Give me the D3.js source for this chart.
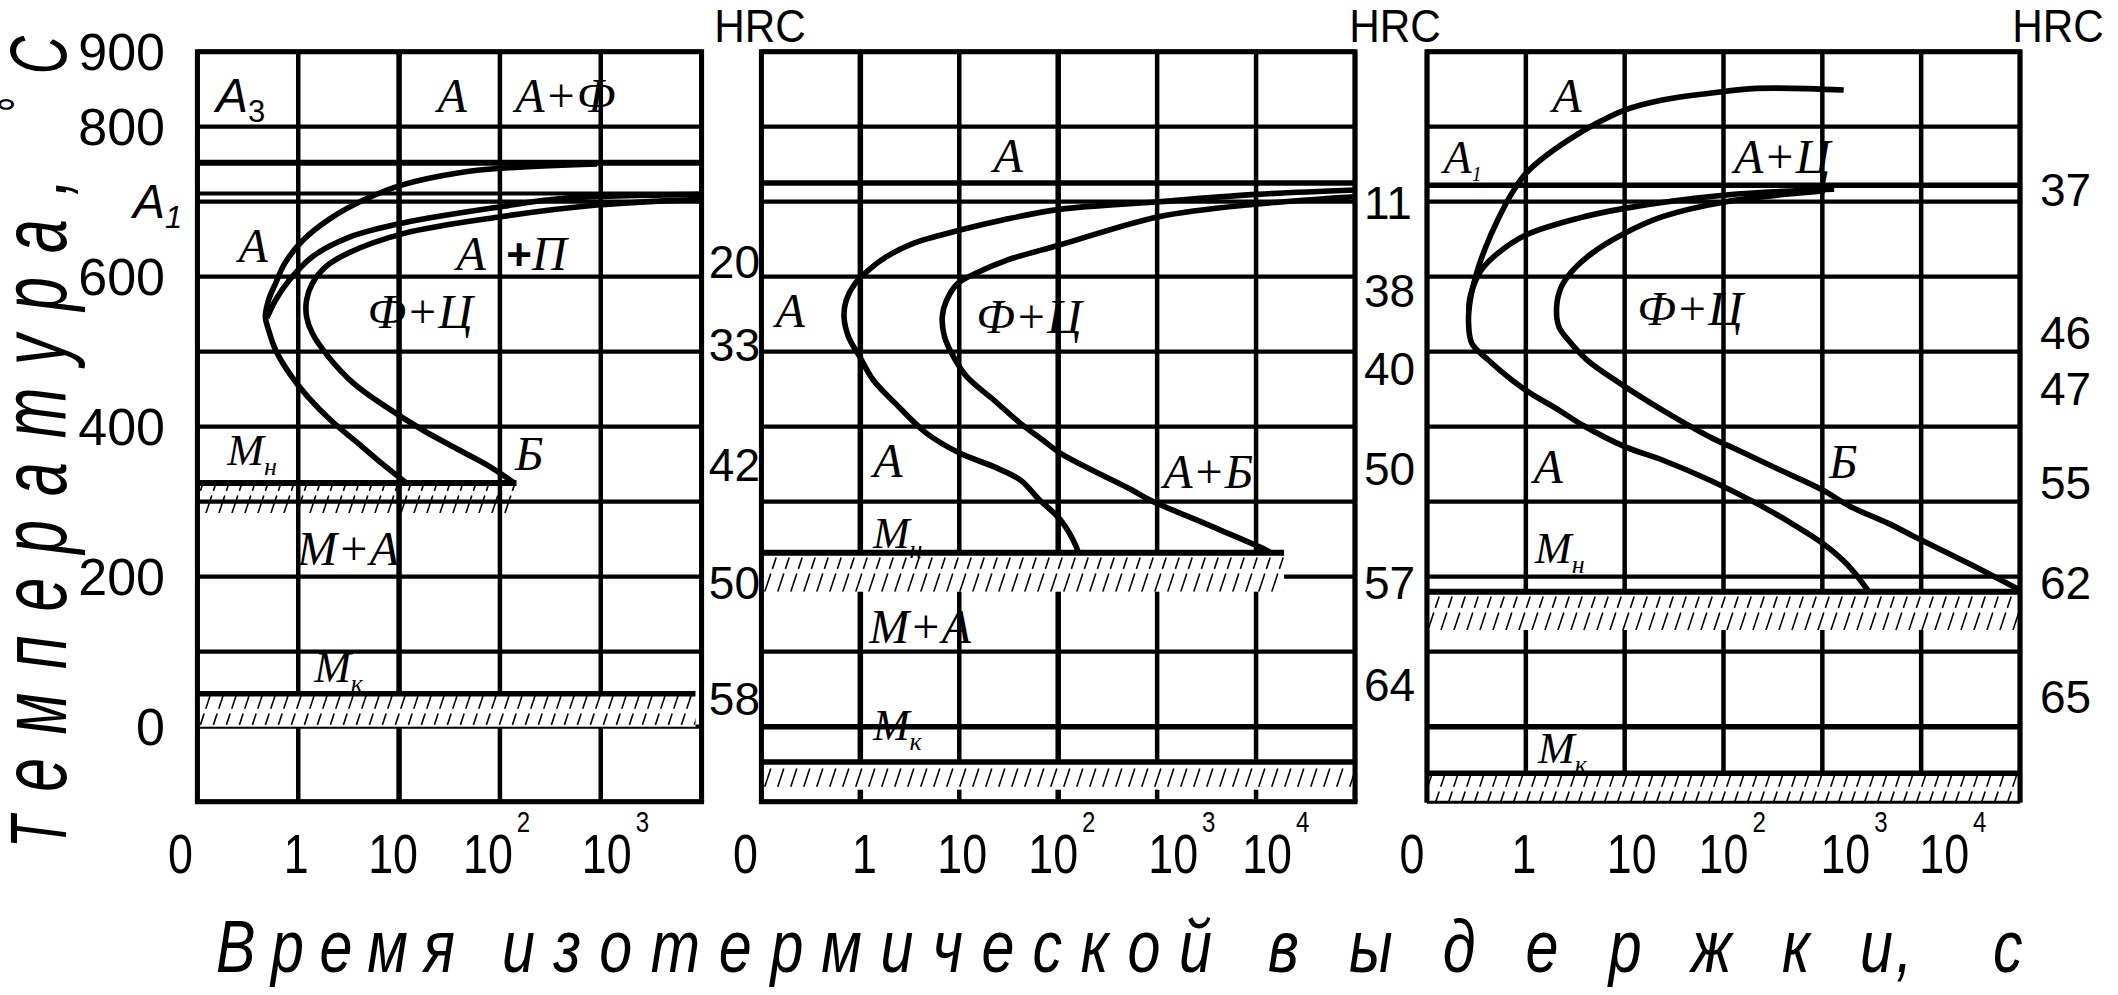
<!DOCTYPE html>
<html><head><meta charset="utf-8">
<script src="https://cdn.jsdelivr.net/npm/d3@7"></script>
<style>
html,body{margin:0;padding:0;background:#fff;}
svg{display:block;}
</style></head><body>
<svg id="chart" width="2118" height="995"></svg>
<script>
// ================= DATA =================
const gridTemps = [-100, 0, 100, 200, 300, 400, 500, 600, 700, 800, 900];
const tempTickValues = [900, 800, 600, 400, 200, 0];

const p1TimeGrid = [0.1, 1, 10, 100, 1000, 10000];
const p23TimeGrid = [0.1, 1, 10, 100, 1000, 10000, 100000];
const p1TimeTicks = [0.1, 1, 10, 100, 1000];
const p1TimeLabels = ["0", "1", "10", "10^2", "10^3"];
const p23TimeTicks = [0.1, 1, 10, 100, 1000, 10000];
const p23TimeLabels = ["0", "1", "10", "10^2", "10^3", "10^4"];

const xTitleWords = ["Время", "изотермической", "выдержки", ",", "с"];
const yTitleParts = ["Т", "емпература, ", "°", "С"];

// critical temperatures, °C
const p1Critical = [752, 711];
const p2Critical = [725];
const p3Critical = [722];
// martensite start / finish
const p1Ms = 325, p1MsEndTime = 146, p1MsBandBottom = 285;
const p1Mf = 44, p1MfBandBottom = 0;
const p2Ms = 232, p2MsEndTime = 19200, p2MsBandBottom = 180;
const p2Mf = -47, p2MfBandBottom = -84;
const p3Ms = 180, p3MsBandBottom = 129;
const p3Mf = -62, p3MfBandBottom = -100;

// C-curves: [time, s ; temperature, °C]
const p1CurveA = [[918,750.3],[101.6,744.5],[39.5,738.7],[11.2,723.1],[4.85,704.5],[2.09,677.8],[1.12,648.9],[0.735,617.8],[0.596,591.1],[0.508,568.9],[0.472,546.7],[0.508,528.9],[0.596,502.2],[0.817,471.1],[1.24,440],[2.09,408.9],[3.93,377.8],[7.38,346.7],[11.8,325]];
const p1CurveB = [[10000,709.8],[440,704.5],[101.6,693.3],[11.2,672],[3.18,652.5],[1.38,626.7],[0.817,595.6],[0.596,568.9],[0.49,545]];
const p1CurveC = [[10000,703.1],[918,695.6],[101.6,680],[11.2,657.8],[3.18,632],[1.88,613.4],[1.38,591.1],[1.21,568.9],[1.21,546.7],[1.38,524.5],[1.99,493.4],[3.54,457.8],[7.38,426.7],[17.1,395.6],[39.5,369],[74.3,349],[139,325]];

const p2CurveD = [[100000,715.6],[10230,709.8],[1040,700],[103.5,689.8],[27.4,675.6],[10.2,662.2],[3.43,644.5],[1.84,626.7],[1.21,608.9],[0.887,591.1],[0.721,568.9],[0.684,546.7],[0.759,520],[0.984,493.4],[1.35,462.3],[2.26,431.1],[4.68,391.1],[10.2,364.5],[22.3,346.7],[41.5,328.9],[63,304],[105.7,275.6],[152,240],[158.5,232]];
const p2CurveE = [[100000,706.7],[10230,696.9],[1040,680],[103.5,642.2],[30.4,622.2],[14.7,604.5],[9.68,591.1],[7.46,568.9],[6.73,546.7],[7.1,520],[8.73,493.4],[11.9,466.7],[22.3,435.6],[41.5,404.5],[69.8,382.2],[105.7,364.5],[219,342.3],[557,315.6],[845,302.2],[3622,266.7],[12620,235.6],[14000,232]];

const p3CurveF = [[1644,848.9],[216,851.1],[72.1,844.5],[24.1,835.6],[10,822.2],[5.2,804.5],[2.69,782.2],[1.55,760],[1.0,737.8],[0.721,711.1],[0.519,675.6],[0.394,640],[0.317,604.5],[0.274,568.9],[0.263,542.2],[0.284,511.2],[0.417,488.9],[0.721,462.3],[1.117,444.5],[2.16,422.2],[3.73,402.2],[10,373.4],[24.1,355.6],[72.1,328.9],[216,297.8],[520,268.9],[1005,244.5],[1738,217.8],[2415,195.6],[2951,180]];
const p3CurveG = [[1318,716.5],[105.9,708.9],[10,691.1],[3.35,677.8],[1.0,655.6],[0.519,631.1],[0.354,608.9],[0.293,586.7],[0.269,568.9],[0.265,555]];
const p3CurveH = [[1059,714.7],[105.9,700],[24.1,680],[10,657.8],[4.66,631.1],[3.0,608.9],[2.29,586.7],[2.05,560],[2.16,533.3],[2.69,515.6],[4.17,488.9],[8.97,457.8],[24.1,422.2],[72.1,386.7],[139.6,368.9],[374,342.2],[1005,315.6],[1936,293.3],[4656,271.1],[10000,248.9],[30060,217.8],[100000,182]];

// hardness HRC after isothermal holding at temperature
const p1Hrc = [20, 33, 42, 50, 58];
const p1HrcTemps = [620, 510, 350, 193, 38];
const p2Hrc = [11, 38, 40, 50, 57, 64];
const p2HrcTemps = [699, 582, 478, 345, 192, 57];
const p3Hrc = [37, 46, 47, 55, 62, 65];
const p3HrcTemps = [717, 526, 451, 326, 192, 41];

// phase-region labels [text, time, temperature]
const p1Labels = [["А",33.6,820],["А+Ф",445,820],["А",0.358,620],["А",52,609],["Ф+Ц",16.2,532],["Б",195,342],["М+А",3.13,216]];
const p2Labels = [["А",31.2,740],["А",0.195,533],["Ф+Ц",50.8,525],["А",1.9,333],["А+Б",3280,318],["М+А",4.02,112]];
const p3Labels = [["А",2.61,820],["А+Ц",392,738],["Ф+Ц",45.9,536],["А",1.68,325],["Б",1622,332]];
// subscripted labels [main, sub, time, temperature]
const p1SubLabels = [["М","н",0.198,349],["М","к",1.44,60]];
const p2SubLabels = [["М","н",1.34,238],["М","к",1.34,-18]];
const p3SubLabels = [["М","н",1.24,218],["М","к",1.33,-49],["А","1",0.147,738]];

// ================= DRAWING =================
const svg = d3.select("#chart");
const SANS = "'Liberation Sans', Arial, sans-serif";
const SERIF = "'Liberation Serif', 'Times New Roman', serif";

const defs = svg.append("defs");
const pat = defs.append("pattern").attr("id", "hatch")
  .attr("patternUnits", "userSpaceOnUse").attr("width", 13).attr("height", 39);
pat.append("path").attr("d", "M-13,39L0,0M0,39L13,0M13,39L26,0")
  .attr("stroke", "#000").attr("stroke-width", 1.6).attr("fill", "none")
  .attr("stroke-dasharray", "12,5");

const y = d3.scaleLinear().domain([-100, 900]).range([801.7, 51.7]);

const panels = [
  { domain: [0.1, 1e4], range: [197.4, 701.6], grid: p1TimeGrid,
    critical: p1Critical, criticalW: [6, 4],
    ms: p1Ms, msEnd: p1MsEndTime, msBottom: p1MsBandBottom, msOpaque: false,
    mf: p1Mf, mfEnd: 8700, mfBottom: p1MfBandBottom, mfOpaque: true,
    curves: [p1CurveA, p1CurveB, p1CurveC],
    ticks: p1TimeTicks, tickLabels: p1TimeLabels, nudge: [-17, -2, -6, -12, 6],
    labels: p1Labels, subLabels: p1SubLabels, boldV: [10], boldT: [], bottomW: 5 },
  { domain: [0.1, 1e5], range: [761.4, 1355], grid: p23TimeGrid,
    critical: p2Critical, criticalW: [5.5],
    ms: p2Ms, msEnd: p2MsEndTime, msBottom: p2MsBandBottom, msOpaque: true,
    mf: p2Mf, mfEnd: 1e5, mfBottom: p2MfBandBottom, mfOpaque: true,
    curves: [p2CurveD, p2CurveE],
    ticks: p23TimeTicks, tickLabels: p23TimeLabels, nudge: [-16, 4, 3, -5, 16, 11],
    labels: p2Labels, subLabels: p2SubLabels, boldV: [1, 100], boldT: [0], bottomW: 5 },
  { domain: [0.1, 1e5], range: [1427, 2020], grid: p23TimeGrid,
    critical: p3Critical, criticalW: [5.5],
    ms: p3Ms, msEnd: 1e5, msBottom: p3MsBandBottom, msOpaque: true,
    mf: p3Mf, mfEnd: 1e5, mfBottom: p3MfBandBottom, mfOpaque: true,
    curves: [p3CurveF, p3CurveG, p3CurveH],
    ticks: p23TimeTicks, tickLabels: p23TimeLabels, nudge: [-15, -2, 7, 0, 23, 23],
    labels: p3Labels, subLabels: p3SubLabels, boldV: [], boldT: [0], bottomW: 2 }
];

panels.forEach((P) => {
  const x = d3.scaleLog().domain(P.domain).range(P.range);
  const g = svg.append("g");
  const x0 = x(P.domain[0]), x1 = x(P.domain[1]);

  // grid
  g.selectAll(".hg").data(gridTemps).join("line")
    .attr("x1", x0).attr("x2", x1).attr("y1", d => y(d)).attr("y2", d => y(d))
    .attr("stroke", "#000").attr("stroke-width", d => P.boldT.includes(d) ? 5.5 : 4.3);
  g.selectAll(".vg").data(P.grid).join("line")
    .attr("x1", d => x(d)).attr("x2", d => x(d)).attr("y1", y(900)).attr("y2", y(-100))
    .attr("stroke", "#000").attr("stroke-width", d => P.boldV.includes(d) ? 5.5 : 4.5);

  // hatched bands
  const bands = [
    { top: P.ms, bottom: P.msBottom, end: P.msEnd, opaque: P.msOpaque },
    { top: P.mf, bottom: P.mfBottom, end: P.mfEnd, opaque: P.mfOpaque }
  ];
  bands.forEach(b => {
    const bx0 = x0 + 2, bx1 = x(b.end);
    const by0 = y(b.top) + 2, by1 = y(b.bottom);
    if (b.opaque) {
      g.append("rect").attr("x", bx0).attr("y", by0).attr("width", bx1 - bx0).attr("height", by1 - by0)
        .attr("fill", "#fff");
    }
    g.append("rect").attr("x", bx0).attr("y", by0).attr("width", bx1 - bx0).attr("height", by1 - by0)
      .attr("fill", "url(#hatch)");
  });

  // critical lines
  g.selectAll(".crit").data(P.critical).join("line")
    .attr("x1", x0).attr("x2", x1).attr("y1", d => y(d)).attr("y2", d => y(d))
    .attr("stroke", "#000").attr("stroke-width", (d, i) => P.criticalW[i]);
  // Ms and Mf lines
  g.append("line").attr("x1", x0).attr("x2", x(P.msEnd)).attr("y1", y(P.ms)).attr("y2", y(P.ms))
    .attr("stroke", "#000").attr("stroke-width", 6);
  g.append("line").attr("x1", x0).attr("x2", x(P.mfEnd)).attr("y1", y(P.mf)).attr("y2", y(P.mf))
    .attr("stroke", "#000").attr("stroke-width", 5.5);

  // C-curves
  const line = d3.line().x(d => x(d[0])).y(d => y(d[1])).curve(d3.curveCatmullRom.alpha(0.5));
  g.selectAll(".curve").data(P.curves).join("path")
    .attr("d", line).attr("fill", "none").attr("stroke", "#000")
    .attr("stroke-width", 5.6).attr("stroke-linejoin", "round");

  // border
  g.append("path")
    .attr("d", `M${x0},${y(-100)}L${x0},${y(900)}L${x1},${y(900)}L${x1},${y(-100)}`)
    .attr("fill", "none").attr("stroke", "#000").attr("stroke-width", 5);
  g.append("line").attr("x1", x0 - 2.5).attr("x2", x1 + 2.5).attr("y1", y(-100)).attr("y2", y(-100))
    .attr("stroke", "#000").attr("stroke-width", P.bottomW);

  // time tick labels
  P.ticks.forEach((t, i) => {
    const lab = P.tickLabels[i];
    const cx = x(t) + P.nudge[i];
    const tg = svg.append("g").attr("transform", `translate(${cx},873) scale(0.8,1)`);
    const parts = lab.split("^");
    tg.append("text").attr("x", 0).attr("y", 0).attr("text-anchor", "middle")
      .attr("font-family", SANS).attr("font-size", 56).text(parts[0]);
    if (parts[1]) {
      const half = parts[0].length * 0.556 * 56 / 2;
      tg.append("text").attr("x", half + 5).attr("y", -41)
        .attr("font-family", SANS).attr("font-size", 30).text(parts[1]);
    }
  });

  // phase labels
  g.selectAll(".plab").data(P.labels).join("text")
    .attr("x", d => x(d[1])).attr("y", d => y(d[2])).attr("text-anchor", "middle")
    .attr("font-family", SERIF).attr("font-style", "italic").attr("font-size", 48)
    .text(d => d[0]);
  P.subLabels.forEach(d => {
    const t = g.append("text").attr("x", x(d[2])).attr("y", y(d[3]))
      .attr("font-family", SERIF).attr("font-style", "italic");
    const isM = d[0] === "М";
    t.append("tspan").attr("font-size", isM ? 44 : 46).text(d[0]);
    t.append("tspan").attr("font-size", isM ? 26 : 20).attr("dy", isM ? 10 : 8).text(d[1]);
  });
});

// panel-1 special labels
{
  const x = d3.scaleLog().domain([0.1, 1e4]).range([197.4, 701.6]);
  const a3 = svg.append("text").attr("x", x(0.153)).attr("y", y(820)).attr("font-family", SANS);
  a3.append("tspan").attr("font-size", 48).attr("font-style", "italic").text("А");
  a3.append("tspan").attr("font-size", 31).attr("dy", 10).text("3");
  const a1 = svg.append("text").attr("x", x(0.023)).attr("y", y(678)).attr("font-family", SANS);
  a1.append("tspan").attr("font-size", 48).attr("font-style", "italic").text("А");
  a1.append("tspan").attr("font-size", 31).attr("font-style", "italic").attr("dy", 10).text("1");
  const pl = svg.append("text").attr("x", x(115.6)).attr("y", y(609));
  pl.append("tspan").attr("font-family", SANS).attr("font-weight", "bold").attr("font-size", 44).text("+");
  pl.append("tspan").attr("font-family", SERIF).attr("font-style", "italic").attr("font-size", 48).text("П");
}

// temperature tick labels
svg.selectAll(".ytl").data(tempTickValues).join("text")
  .attr("x", 165).attr("y", d => y(d)).attr("dy", "0.36em").attr("text-anchor", "end")
  .attr("font-family", SANS).attr("font-size", 52).text(d => d);

// HRC columns
const hrcCols = [
  { vals: p1Hrc, temps: p1HrcTemps, x: 760, anchor: "end", head: 760 },
  { vals: p2Hrc, temps: p2HrcTemps, x: 1364, anchor: "start", head: 1395 },
  { vals: p3Hrc, temps: p3HrcTemps, x: 2040, anchor: "start", head: 2058 }
];
hrcCols.forEach(c => {
  svg.append("g").selectAll("text").data(c.vals).join("text")
    .attr("x", c.x).attr("y", (d, i) => y(c.temps[i])).attr("dy", "0.36em")
    .attr("text-anchor", c.anchor).attr("font-family", SANS).attr("font-size", 46).text(d => d);
  svg.append("g").attr("transform", `translate(${c.head},42) scale(0.92,1)`)
    .append("text").attr("text-anchor", "middle").attr("font-family", SANS)
    .attr("font-size", 46).text("HRC");
});

// y axis title (capitals drawn a little smaller, as in the original lettering)
const yt = svg.append("text").attr("transform", "translate(66,442) rotate(-90) scale(0.66,1)")
  .attr("text-anchor", "middle").attr("font-family", SANS).attr("font-style", "italic")
  .attr("font-size", 92).attr("textLength", 1230).attr("lengthAdjust", "spacing");
yt.append("tspan").attr("font-size", 80).text(yTitleParts[0]);
yt.append("tspan").text(yTitleParts[1]);
yt.append("tspan").attr("dy", -28).attr("font-size", 58).text(yTitleParts[2]);
yt.append("tspan").attr("dy", 28).attr("font-size", 80).text(yTitleParts[3]);

// x axis title, word by word
const xWordSpans = [[216, 455], [502, 1212], [1268, 1893], [1896, 1911], [1993, 2026]];
xTitleWords.forEach((w, i) => {
  const [a, b] = xWordSpans[i];
  const t = svg.append("g").attr("transform", `translate(${a},972) scale(0.8,1)`)
    .append("text").attr("x", 0).attr("y", 0)
    .attr("font-family", SANS).attr("font-style", "italic").attr("font-size", 74)
    .text(w);
  if (w.length > 1) t.attr("textLength", (b - a) / 0.8).attr("lengthAdjust", "spacing");
});
</script>
</body></html>
